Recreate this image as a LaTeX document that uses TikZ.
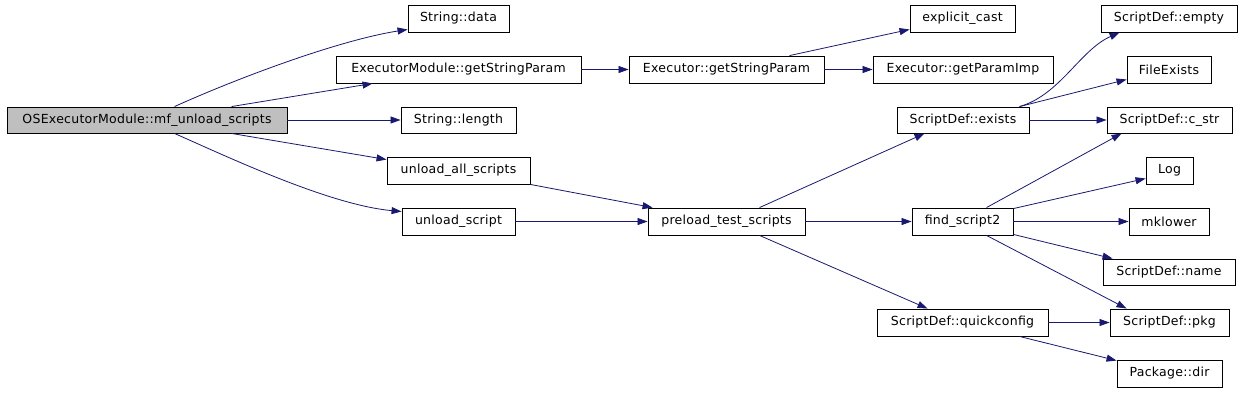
\documentclass[tikz,border=0pt]{standalone}
\usepackage{fontspec}
\setmainfont{DejaVu Sans}
\newfontfamily\boxfont[LetterSpace=2.2]{DejaVu Sans}
\usetikzlibrary{arrows.meta,calc}
\definecolor{edgeblue}{HTML}{191970}
\definecolor{rootfill}{HTML}{BFBFBF}
\tikzset{
  fn/.style={draw=black, line width=0.9pt, inner sep=0pt, fill=white, font=\boxfont\fontsize{12.5}{14}\selectfont},
  rootfn/.style={fn, fill=rootfill},
  call/.style={draw=edgeblue, line width=0.8pt, -{Triangle[length=10pt,width=7pt]}},
}
\newcommand{\mybox}[7][fn]{\node[#1, minimum width={(#4-#2)*1pt}, minimum height={(#5-#3)*1pt}] (#6) at ({(#2+#4)/2},{(#3+#5)/2}) {#7};}
\begin{document}
\begin{tikzpicture}[x=1pt,y=-1pt]
\useasboundingbox[fill=white] (0,0) rectangle (1243,392);
\mybox[rootfn]{7}{107}{287}{133}{root}{OSExecutorModule::mf\_unload\_scripts}
\mybox{408}{5}{509}{32}{data}{String::data}
\mybox{336}{56}{581}{83}{exm}{ExecutorModule::getStringParam}
\mybox{629}{56}{824}{83}{esp}{Executor::getStringParam}
\mybox{401}{107}{516}{133}{len}{String::length}
\mybox{387}{157}{530}{184}{uas}{unload\_all\_scripts}
\mybox{402}{208}{515}{235}{us}{unload\_script}
\mybox{648}{208}{805}{235}{pre}{preload\_test\_scripts}
\mybox{910}{5}{1015}{32}{cast}{explicit\_cast}
\mybox{873}{56}{1053}{83}{gpi}{Executor::getParamImp}
\mybox{897}{107}{1029}{133}{exists}{ScriptDef::exists}
\mybox{1101}{5}{1237}{32}{empty}{ScriptDef::empty}
\mybox{1127}{56}{1211}{83}{fe}{FileExists}
\mybox{1107}{107}{1232}{133}{cstr}{ScriptDef::c\_str}
\mybox{1146}{157}{1193}{184}{log}{Log}
\mybox{912}{208}{1013}{235}{find}{find\_script2}
\mybox{1129}{208}{1209}{235}{mk}{mklower}
\mybox{1103}{259}{1235}{285}{name}{ScriptDef::name}
\mybox{877}{309}{1048}{336}{qc}{ScriptDef::quickconfig}
\mybox{1110}{309}{1229}{336}{pkg}{ScriptDef::pkg}
\mybox{1117}{360}{1222}{387}{dir}{Package::dir}
% edges
\draw[call] ($(root.north west)+(168,0)$) .. controls (240,77) and (340,40) .. ($(data.west)+(0,11)$);
\draw[call] ($(root.north west)+(225,0)$) -- ($(exm.south west)+(37,0)$);
\draw[call] (root.east) -- (len.west);
\draw[call] ($(root.south west)+(225,0)$) -- ($(uas.north west)+(0,3)$);
\draw[call] ($(root.south west)+(168,0)$) .. controls (230,158) and (330,205) .. ($(us.west)+(0,-10)$);
\draw[call] (exm.east) -- (esp.west);
\draw[call] ($(esp.north west)+(161,0)$) -- ($(cast.south west)+(0,-3)$);
\draw[call] (esp.east) -- (gpi.west);
\draw[call] (uas.south east) -- ($(pre.north west)+(5,0)$);
\draw[call] (us.east) -- (pre.west);
\draw[call] ($(pre.north west)+(112,0)$) -- ($(exists.south west)+(28,0)$);
\draw[call] (pre.east) -- (find.west);
\draw[call] ($(pre.south west)+(112,0)$) -- ($(qc.north west)+(51,0)$);
\draw[call] ($(exists.north west)+(123,0)$) .. controls (1060,95) and (1080,50) .. ($(empty.south west)+(19,0)$);
\draw[call] ($(exists.north west)+(123,0)$) -- ($(fe.west)+(0,10)$);
\draw[call] (exists.east) -- (cstr.west);
\draw[call] ($(find.north west)+(75,0)$) -- ($(cstr.south west)+(15,0)$);
\draw[call] ($(find.north east)+(0,1)$) -- ($(log.west)+(0,8)$);
\draw[call] (find.east) -- (mk.west);
\draw[call] ($(find.south east)+(0,-1)$) -- ($(name.north west)+(10,0)$);
\draw[call] ($(find.south west)+(75,0)$) -- ($(pkg.north west)+(17,0)$);
\draw[call] (qc.east) -- (pkg.west);
\draw[call] ($(qc.south west)+(143,0)$) -- ($(dir.north west)+(0,1)$);
\end{tikzpicture}
\end{document}
